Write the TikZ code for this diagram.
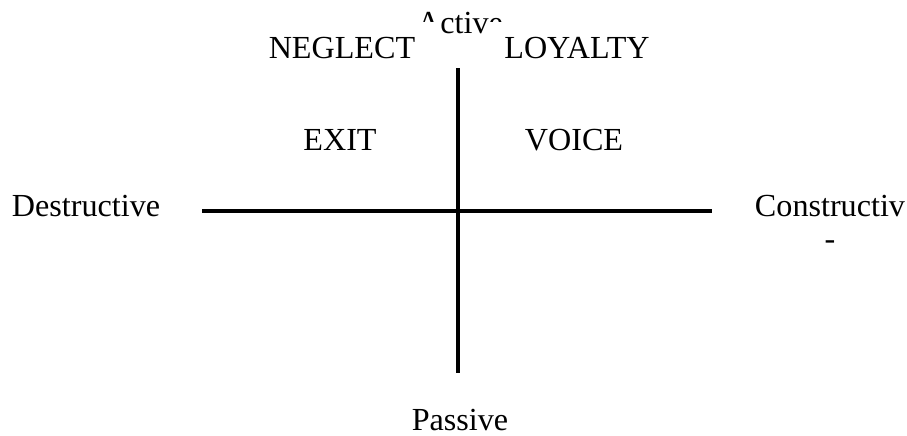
\documentclass[tikz,border=0pt]{standalone}
\usepackage{fontspec}
\setmainfont{Liberation Serif}
\usepackage{tikz}

\begin{document}
\begin{tikzpicture}[x=0.02cm,y=-0.02cm]
    \tikzstyle{every node} = [font=\fontsize{18.3}{21}\selectfont, inner sep=0pt]
    \tikzstyle{word} = [anchor=base]
    \tikzstyle{box} = [anchor=base, fill=white, inner ysep=15*0.567pt]
    \tikzstyle{axis} = [line width=2pt]
    \useasboundingbox (0,0) rectangle (907,436);
    % place nodes
    \node[word](active) at (460,33){Active};
    \node[box, inner xsep=26*0.567pt](neglect) at (342,58){NEGLECT};
    \node[box, inner xsep=18*0.567pt](loyalty) at (577,58){LOYALTY};
    \node[word](exit) at (340,150){EXIT};
    \node[word](voice) at (574,150){VOICE};
    \node[word](destructive) at (86,216){Destructive};
    \node[word, align=center](constructive) at (830,249){Constructiv\\[-2.3pt]-};
    \node[word](passive) at (460,430){Passive};

    % axes
    \coordinate (top) at (458,68);
    \coordinate (bottom) at (458,373);
    \coordinate (left) at (202,211);
    \coordinate (right) at (712,211);
    \draw[axis] (top) -- (bottom);
    \draw[axis] (left) -- (right);
\end{tikzpicture}
\end{document}
